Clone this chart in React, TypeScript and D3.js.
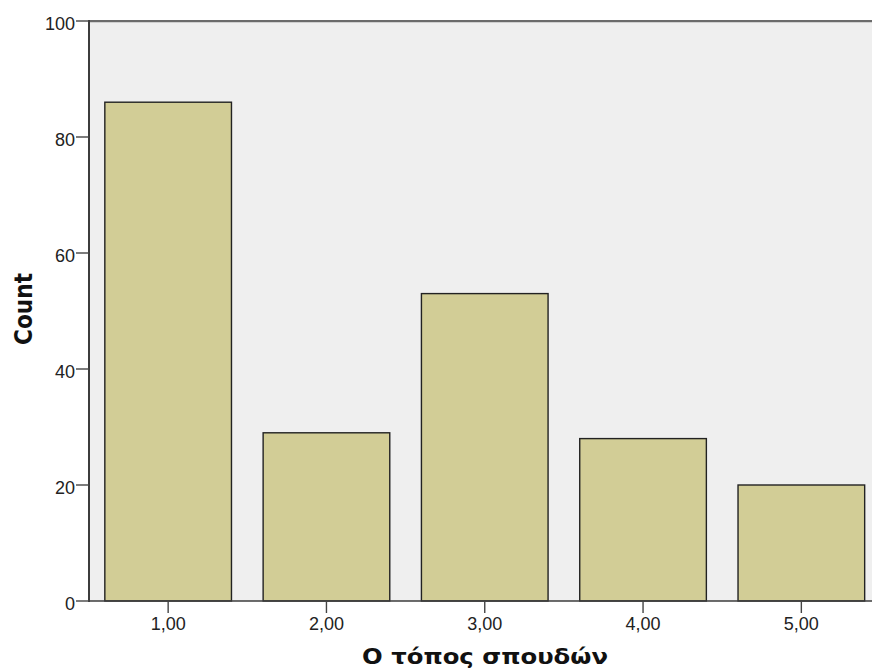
import React from "react";
import * as d3 from "d3";

const categories = ["1,00", "2,00", "3,00", "4,00", "5,00"];
const counts = [86, 29, 53, 28, 20];
const yTicks = [0, 20, 40, 60, 80, 100];

const W = 872;
const H = 669;
const left = 89;
const top = 21;
const bottom = 601;
const plotRight = 880.5;

export default function App() {
  const x = d3
    .scaleBand<string>()
    .domain(categories)
    .range([left, plotRight])
    .paddingInner(0.2)
    .paddingOuter(0.1);
  const y = d3.scaleLinear().domain([0, 100]).range([bottom, top]);

  return (
    <svg
      width={W}
      height={H}
      style={{ position: "absolute", left: 0, top: 0, display: "block" }}
    >
      <rect x={0} y={0} width={W} height={H} fill="#ffffff" />
      <rect
        x={left}
        y={top}
        width={plotRight - left}
        height={bottom - top}
        fill="#efefef"
      />
      {/* top border */}
      <line x1={left} x2={W} y1={top} y2={top} stroke="#6b6b6b" strokeWidth={2} />
      <line x1={left} x2={W} y1={top + 1.5} y2={top + 1.5} stroke="#cfcfcf" strokeWidth={1} />
      {counts.map((c, i) => (
        <rect
          key={categories[i]}
          x={x(categories[i])!}
          y={y(c)}
          width={x.bandwidth()}
          height={bottom - y(c)}
          fill="#d2cd96"
          stroke="#222"
          strokeWidth={1.4}
        />
      ))}
      {/* axes */}
      <line x1={left} x2={left} y1={top - 1} y2={bottom + 1} stroke="#3c3c3c" strokeWidth={2} />
      <line x1={left} x2={W} y1={bottom} y2={bottom} stroke="#3c3c3c" strokeWidth={1.5} />
      {yTicks.map((t) => (
        <g key={t}>
          <line x1={left - 13} x2={left} y1={y(t)} y2={y(t)} stroke="#444" strokeWidth={1.4} />
          <text
            x={75}
            y={y(t) + 9}
            textAnchor="end"
            fontFamily="Liberation Sans, Arial, sans-serif"
            fontSize={18}
            fill="#222"
          >
            {t}
          </text>
        </g>
      ))}
      {categories.map((c) => {
        const cx = x(c)! + x.bandwidth() / 2;
        return (
          <g key={c}>
            <line x1={cx} x2={cx} y1={bottom} y2={bottom + 12} stroke="#444" strokeWidth={1.4} />
            <text
              x={cx}
              y={630}
              textAnchor="middle"
              fontFamily="Liberation Sans, Arial, sans-serif"
              fontSize={18}
              fill="#222"
            >
              {c}
            </text>
          </g>
        );
      })}
      <text
        x={362}
        y={664}
        textLength={246}
        lengthAdjust="spacingAndGlyphs"
        fontFamily="DejaVu Sans, sans-serif"
        fontWeight="bold"
        fontSize={21}
        fill="#111"
      >
        Ο τόπος σπουδών
      </text>
      <text
        transform="translate(32, 345) rotate(-90)"
        textLength={72}
        lengthAdjust="spacingAndGlyphs"
        fontFamily="DejaVu Sans, sans-serif"
        fontWeight="bold"
        fontSize={25}
        fill="#111"
      >
        Count
      </text>
    </svg>
  );
}
